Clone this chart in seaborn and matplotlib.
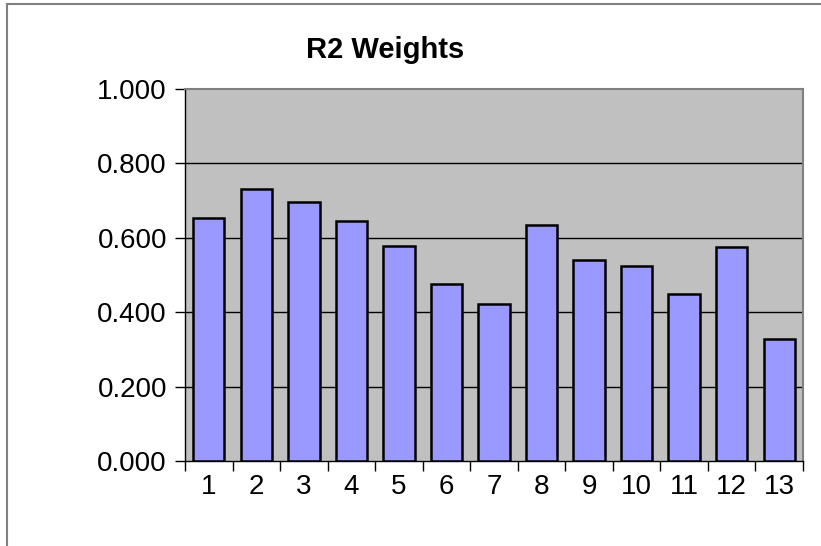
import numpy as np
import pandas as pd
import matplotlib
matplotlib.use("Agg")
import matplotlib.pyplot as plt
import seaborn as sns
from matplotlib.patches import Rectangle
from matplotlib.ticker import FixedLocator, FormatStrFormatter

# values
categories = [str(i) for i in range(1, 14)]
r2_weights = [0.652, 0.731, 0.697, 0.645, 0.577, 0.475, 0.423,
              0.634, 0.540, 0.524, 0.448, 0.576, 0.327]
y_ticks = [0.0, 0.2, 0.4, 0.6, 0.8, 1.0]

df = pd.DataFrame({"component": categories, "weight": r2_weights})

sns.set_style("white")
plt.rcParams["font.family"] = ["Liberation Sans", "DejaVu Sans"]
plt.rcParams["text.color"] = "black"
plt.rcParams["xtick.color"] = "black"
plt.rcParams["ytick.color"] = "black"

fig = plt.figure(figsize=(8.21, 5.46), dpi=100)
ax = fig.add_axes([185 / 821, 1 - 461 / 546, 618 / 821, 372 / 546])
ax.set_facecolor("#C0C0C0")

sns.barplot(data=df, x="component", y="weight", color="#9999FF",
            saturation=1, width=0.66, edgecolor="black", linewidth=1.8,
            ax=ax, zorder=3)

# gridlines
for y in y_ticks[1:-1]:
    ax.axhline(y, color="black", linewidth=1.0, zorder=1)

ax.set_ylim(0, 1.0)
ax.set_xlim(-0.5, len(categories) - 0.5)
ax.set_yticks(y_ticks)
ax.yaxis.set_major_formatter(FormatStrFormatter("%.3f"))
ax.set_xlabel("")
ax.set_ylabel("")

# category ticks between bars, labels centred
ax.tick_params(axis="x", which="major", bottom=True, length=0, pad=9,
               labelsize=20, labelcolor="black")
ax.xaxis.set_minor_locator(FixedLocator(np.arange(-0.5, len(categories), 1.0)))
ax.tick_params(axis="x", which="minor", bottom=True, length=7, width=1,
               color="black", direction="out")
ax.tick_params(axis="y", left=True, length=7, width=1, color="black",
               direction="out", pad=6, labelsize=20, labelcolor="black")

for side in ["top", "right"]:
    ax.spines[side].set_color("#808080")
    ax.spines[side].set_linewidth(1.5)
for side in ["left", "bottom"]:
    ax.spines[side].set_color("black")
    ax.spines[side].set_linewidth(1.0)

fig.text(385 / 821, 1 - 50 / 546, "R2 Weights", ha="center", va="center",
         fontsize=21, fontweight="bold", color="black")

# outer chart border
fig.patches.append(Rectangle((7 / 821, -0.05), 1.1, 1 - 4 / 546 + 0.05,
                             transform=fig.transFigure, fill=False,
                             edgecolor="#808080", linewidth=1.5))

fig.savefig("out.png", dpi=100)
